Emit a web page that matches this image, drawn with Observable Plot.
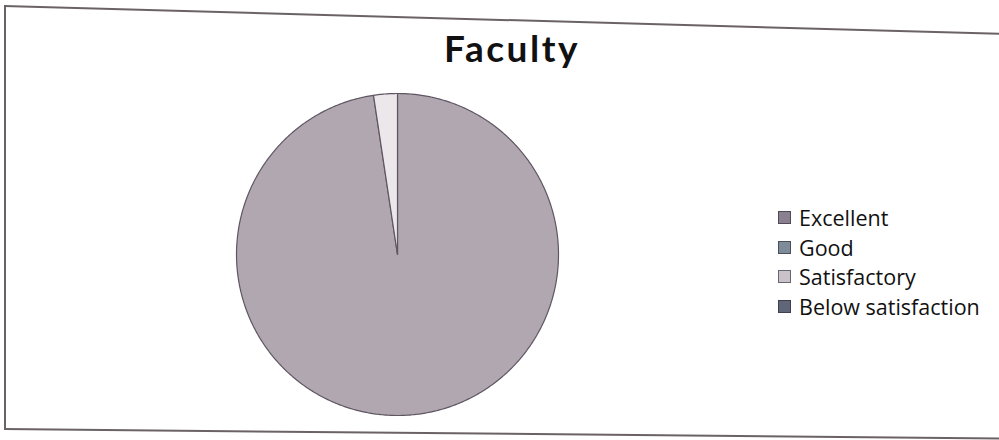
<!DOCTYPE html>
<html>
<head>
<meta charset="utf-8">
<script src="https://cdn.jsdelivr.net/npm/d3@7"></script>
<script src="https://cdn.jsdelivr.net/npm/@observablehq/plot@0.6"></script>
<style>
  html, body { margin: 0; padding: 0; background: #fff; }
  #wrap { position: relative; width: 999px; height: 440px; overflow: hidden; background: #fff; }
  #title { position: absolute; left: 0; width: 1024px; top: 25px; text-align: center; letter-spacing: 2.5px;
           font-family: Lato, "Open Sans", sans-serif; font-weight: 700; font-size: 37px; color: #111; }
  #legend { position: absolute; left: 778px; top: 203px; }
  .lrow { display: flex; align-items: center; height: 29.5px; font-family: "Open Sans", Lato, sans-serif;
          font-size: 21.5px; color: #111; }
  .sw { width: 13px; height: 13px; margin-right: 8px; box-shadow: inset 0 0 0 1px rgba(40,40,50,0.6); }
  .bl { position: absolute; background: #6a6266; height: 2px; transform-origin: 0 0; }
  .bv { position: absolute; background: #6a6266; width: 1.5px; }
</style>
</head>
<body>
<div id="wrap">
  <div id="chart"></div>
  <div id="title"></div>
  <div id="legend"></div>
  <div class="bl" style="left:4px;top:5px;width:1000px;transform:rotate(1.6deg);"></div>
  <div class="bl" style="left:4px;top:428px;width:1000px;transform:rotate(0.55deg);"></div>
  <div class="bv" style="left:4px;top:5px;height:424px;"></div>
</div>
<script>
const title = "Faculty";
const categories = ["Excellent", "Good", "Satisfactory", "Below satisfaction"];
const counts = [41, 0, 1, 0];
const sliceColors = ["#b1a7b1", "#7e8b98", "#ece7ea", "#5f6677"];
const swatchColors = ["#8a8090", "#7e8b98", "#c9c3c9", "#5f6677"];

document.getElementById("title").textContent = title;

const data = categories.map((c, i) => ({category: c, value: counts[i]}));
const arcs = d3.pie().sort(null).value(d => d.value)(data);

// build polygon points for each slice (angle 0 = 12 o'clock, clockwise)
const pts = [];
for (const a of arcs) {
  if (a.endAngle - a.startAngle <= 0) continue;
  const n = Math.max(2, Math.ceil((a.endAngle - a.startAngle) / 0.01));
  const cat = a.data.category;
  pts.push({cat, x: 0, y: 0});
  for (let k = 0; k <= n; k++) {
    const t = a.startAngle + (a.endAngle - a.startAngle) * k / n;
    pts.push({cat, x: Math.sin(t), y: Math.cos(t)});
  }
  pts.push({cat, x: 0, y: 0});
}

const W = 999, H = 440, cx = 397, cy = 254, R = 161;
const plot = Plot.plot({
  width: W,
  height: H,
  margin: 0,
  x: {domain: [-cx / R, (W - cx) / R], axis: null},
  y: {domain: [-(H - cy) / R, cy / R], axis: null},
  color: {domain: categories, range: sliceColors},
  marks: [
    Plot.line(pts, {x: "x", y: "y", z: "cat", fill: "cat", stroke: "#5e5662", strokeWidth: 1.2, curve: "linear-closed"})
  ]
});
document.getElementById("chart").appendChild(plot);

const leg = document.getElementById("legend");
categories.forEach((c, i) => {
  const row = document.createElement("div");
  row.className = "lrow";
  const sw = document.createElement("div");
  sw.className = "sw";
  sw.style.background = swatchColors[i];
  const tx = document.createElement("span");
  tx.textContent = c;
  row.appendChild(sw);
  row.appendChild(tx);
  leg.appendChild(row);
});
</script>
</body>
</html>
